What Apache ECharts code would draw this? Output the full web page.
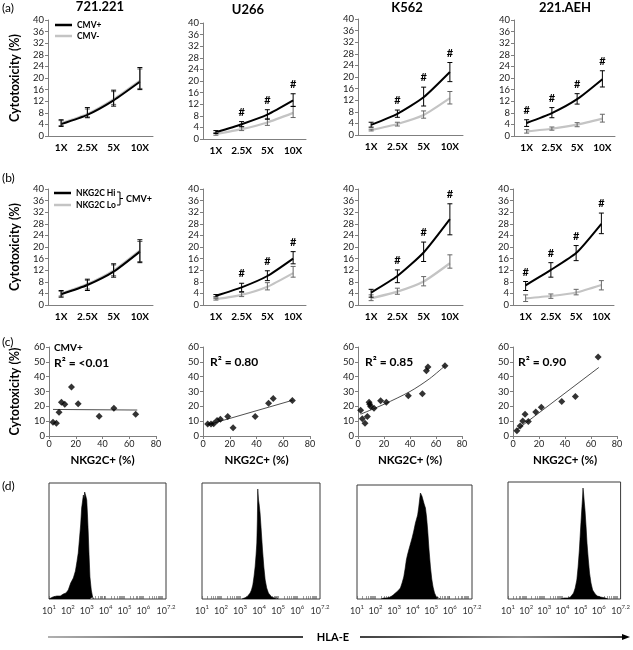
<!DOCTYPE html>
<html><head><meta charset="utf-8">
<script src="https://cdn.jsdelivr.net/npm/echarts@6/dist/echarts.min.js"></script>
<style>html,body{margin:0;padding:0;background:#fff}#c{width:633px;height:650px}</style>
</head><body><div id="c"></div>
<script>
// ---------- DATA ----------
const doses = ['1X','2.5X','5X','10X'];
const cellLines = ['721.221','U266','K562','221.AEH'];
const legendA = ['CMV+','CMV-'];
const legendB = ['NKG2C Hi','NKG2C Lo'];

// row (a): CMV+ (black) vs CMV- (grey)
const a1Pos=[4.1,7.3,12.3,18.7], a1PosLo=[3.3,6.3,10.3,16.0], a1PosHi=[5.6,9.8,15.8,23.6];
const a1Neg=[4.4,7.6,12.7,19.1], a1NegLo=[3.6,6.6,10.9,16.4], a1NegHi=[5.3,9.3,15.3,23.1];
const a1Sig=[0,0,0,0];
const a2Pos=[2.3,5.1,8.4,13.3], a2PosLo=[1.9,4.2,6.8,11.2], a2PosHi=[2.9,6.0,10.1,15.6];
const a2Neg=[1.7,3.4,5.7,9.0], a2NegLo=[1.3,2.9,4.7,7.4], a2NegHi=[2.2,4.3,7.1,11.3];
const a2Sig=[0,1,1,1];
const a3Pos=[3.5,7.3,13.0,21.7], a3PosLo=[2.7,6.1,10.0,18.4], a3PosHi=[4.4,8.6,16.5,25.0];
const a3Neg=[1.7,3.8,6.9,12.7], a3NegLo=[1.4,3.1,5.8,10.7], a3NegHi=[2.0,4.4,8.3,15.0];
const a3Sig=[0,1,1,1];
const a4Pos=[4.5,7.9,12.7,19.6], a4PosLo=[3.3,6.3,11.0,16.9], a4PosHi=[5.6,9.8,14.6,22.5];
const a4Neg=[1.6,2.5,3.9,6.0], a4NegLo=[1.0,2.0,3.2,4.8], a4NegHi=[2.2,3.1,4.6,7.5];
const a4Sig=[1,1,1,1];

// row (b): NKG2C Hi (black) vs NKG2C Lo (grey)
const b1Hi=[3.7,6.9,11.5,18.4], b1HiLo=[2.7,5.0,9.6,14.6], b1HiHi=[5.0,8.9,14.2,22.5];
const b1Lo=[3.9,7.2,11.9,18.8], b1LoLo=[3.1,5.5,10.1,15.0], b1LoHi=[4.7,8.5,13.8,21.9];
const b1Sig=[0,0,0,0];
const b2Hi=[3.2,6.1,10.0,16.0], b2HiLo=[2.8,4.6,8.4,14.2], b2HiHi=[3.6,7.5,11.8,18.4];
const b2Lo=[2.0,3.5,6.3,11.0], b2LoLo=[1.7,2.9,5.2,9.6], b2LoHi=[2.3,4.3,7.7,13.3];
const b2Sig=[0,1,1,1];
const b3Hi=[4.3,10.0,18.1,29.6], b3HiLo=[2.7,7.7,15.0,24.2], b3HiHi=[5.4,12.1,21.7,34.9];
const b3Lo=[2.3,4.6,8.1,14.4], b3LoLo=[1.5,3.7,6.6,12.7], b3LoHi=[3.5,5.8,9.8,17.3];
const b3Sig=[0,1,1,1];
const b4Hi=[6.8,12.1,17.9,28.0], b4HiLo=[5.0,9.6,15.3,24.6], b4HiHi=[8.1,14.6,20.5,31.7];
const b4Lo=[2.3,3.1,4.3,6.9], b4LoLo=[1.2,2.3,3.5,5.2], b4LoHi=[3.5,3.8,5.4,8.4];
const b4Sig=[1,1,1,1];

// row (c): NKG2C+ (%) vs cytotoxicity (%)
const c1Pts=[[3,9.2],[5.5,8.6],[7.5,16.0],[9.3,22.8],[11.8,21.4],[16.8,33.0],[21.8,21.7],[37.5,13.3],[48.5,18.7],[64.8,14.7]];
const c1Fit=[[3,17.9],[66,17.5]];
const c2Pts=[[3.5,8.1],[6,8.1],[8,8.3],[10.5,10.4],[13,11.3],[18.5,13.1],[22.5,5.6],[39,13.1],[49,22.1],[52.5,25.3],[66.8,23.9]];
const c2Fit=[[3,7.4],[67,24.1]];
const c3Pts=[[2,17.4],[3.3,11.7],[5.4,8.6],[7.2,13.1],[8.5,22.8],[9,21.4],[9.7,19.9],[12.3,18.7],[17.4,23.7],[21.8,22.8],[38.7,27.1],[49.5,28.4],[52.6,44.0],[53.8,46.5],[66.9,47.4]];
const c3Fit=[[2,14.7],[20,21.4],[40,30.0],[55,38.6],[67,47.4]];
const c4Pts=[[3,3.6],[5.5,6.8],[7.5,10.1],[9.3,14.7],[11.8,9.7],[17.5,16.2],[21.8,19.4],[37.5,23.2],[48,26.7],[65.5,53.3]];
const c4Fit=[[3,4.3],[66,46.2]];
const r2Texts=['R\u00b2 = <0.01','R\u00b2 = 0.80','R\u00b2 = 0.85','R\u00b2 = 0.90'];

// row (d): HLA-E histograms [log10 intensity, count]
const d1Hist=[[1.0,0],[1.0,1],[1.2,2],[1.41,3],[1.6,3],[1.76,5],[1.9,6],[2.02,9],[2.15,16],[2.29,21],[2.4,28],[2.47,36],[2.55,46],[2.61,59],[2.68,75],[2.73,91],[2.78,98],[2.82,104],[2.86,100],[2.89,107],[2.91,106],[2.95,103],[3.0,99],[3.04,84],[3.08,66],[3.12,45],[3.17,22],[3.24,9],[3.31,2],[3.38,0]];
const d2Hist=[[3.1,0],[3.18,1],[3.36,2],[3.53,6],[3.6,9],[3.67,14],[3.73,22],[3.79,32],[3.84,44],[3.88,56],[3.91,80],[3.93,110],[3.95,104],[3.97,99],[4.0,95],[4.05,86],[4.1,72],[4.18,49],[4.25,32],[4.32,19],[4.4,11],[4.49,6],[4.58,4],[4.66,2],[4.8,1],[4.93,1],[5.0,0]];
const d3Hist=[[2.3,0],[2.44,1],[2.6,1],[2.8,2],[2.95,4],[3.07,6],[3.2,8],[3.34,11],[3.43,16],[3.52,22],[3.6,31],[3.66,39],[3.72,44],[3.79,49],[3.88,55],[3.97,61],[4.06,68],[4.15,76],[4.2,78],[4.27,84],[4.33,92],[4.38,100],[4.42,106],[4.45,108],[4.5,103],[4.56,99],[4.62,95],[4.69,91],[4.75,82],[4.81,69],[4.88,50],[4.96,32],[5.03,20],[5.1,12],[5.18,6],[5.28,2],[5.4,1],[5.5,0]];
const d4Hist=[[3.9,0],[4.09,1],[4.3,1],[4.44,2],[4.61,6],[4.7,11],[4.79,19],[4.86,32],[4.93,49],[4.99,68],[5.05,86],[5.1,100],[5.13,111],[5.16,106],[5.2,97],[5.24,89],[5.3,72],[5.35,56],[5.42,40],[5.49,26],[5.57,16],[5.66,9],[5.8,5],[5.92,3],[6.1,2],[6.36,1],[6.5,0]];
const histLabelVals=[1,2,3,4,5,6,7.2];

// ---------- LAYOUT ----------
const FONT='Lato';
const layA=[[48,20,105],[203,23,103],[358,19,105],[514,20,101]];
const layB=[[48,189,105],[203,189,103],[358,189,105],[513,189,101]];
const layC=[[49,347,107],[203,347,107],[358,347,104],[513,347,104]];
const layD=[[49,483,117,116],[202,483,118,116],[357,485,115,114],[508,482,118,117]];

const grids=[],xAxes=[],yAxes=[],series=[];
const AX='#7f7f7f';

function errSeries(gi,lo,hi,sig,color){
  return {type:'custom',xAxisIndex:gi,yAxisIndex:gi,z:5,silent:true,
    data:lo.map((v,i)=>[i,v,hi[i],sig?sig[i]:0]),
    encode:{x:0,y:[1,2]},
    renderItem:function(params,api){
      const i=api.value(0),l=api.value(1),h=api.value(2),s=api.value(3);
      const p1=api.coord([i,l]),p2=api.coord([i,h]);
      const w=2.5;
      const ch=[
        {type:'line',shape:{x1:p1[0],y1:p1[1],x2:p2[0],y2:p2[1]},style:{stroke:color,lineWidth:1}},
        {type:'line',shape:{x1:p1[0]-w,y1:p1[1],x2:p1[0]+w,y2:p1[1]},style:{stroke:color,lineWidth:1}},
        {type:'line',shape:{x1:p2[0]-w,y1:p2[1],x2:p2[0]+w,y2:p2[1]},style:{stroke:color,lineWidth:1}}
      ];
      if(s){ch.push({type:'text',x:p2[0],y:p2[1]-4,style:{text:'#',font:'bold 11px '+FONT,fill:'#000',align:'center',verticalAlign:'bottom',textAlign:'center',textVerticalAlign:'bottom'}});}
      return {type:'group',children:ch};
    }};
}

function addLinePanel(pos,blk,blkLo,blkHi,gry,gryLo,gryHi,sig,names,yName){
  const gi=grids.length;
  grids.push({left:pos[0],top:pos[1],width:pos[2],height:116});
  xAxes.push({type:'category',gridIndex:gi,data:doses,boundaryGap:true,
    axisLine:{lineStyle:{color:AX}},axisTick:{length:3,lineStyle:{color:AX}},
    axisLabel:{interval:0,fontFamily:FONT,fontWeight:'bold',fontSize:10,color:'#000',margin:7}});
  yAxes.push({type:'value',gridIndex:gi,min:0,max:40,interval:4,splitLine:{show:false},
    axisLine:{show:true,lineStyle:{color:AX}},axisTick:{show:true,length:3,lineStyle:{color:AX}},
    axisLabel:{fontFamily:FONT,fontSize:9.5,color:'#222',margin:4},
    name:yName?'Cytotoxicity (%)':'',nameLocation:'middle',nameGap:27,
    nameTextStyle:{fontFamily:FONT,fontWeight:'bold',fontSize:12.5,color:'#000'}});
  series.push({type:'line',name:names[1],xAxisIndex:gi,yAxisIndex:gi,data:gry,symbol:'none',smooth:0.2,
    lineStyle:{color:'#c4c4c4',width:2.2},itemStyle:{color:'#c4c4c4'},z:2});
  series.push(errSeries(gi,gryLo,gryHi,null,'#666'));
  series.push({type:'line',name:names[0],xAxisIndex:gi,yAxisIndex:gi,data:blk,symbol:'none',smooth:0.2,
    lineStyle:{color:'#000',width:2},itemStyle:{color:'#000'},z:3});
  series.push(errSeries(gi,blkLo,blkHi,sig,'#000'));
}

function addScatterPanel(pos,pts,fit,smooth,yName){
  const gi=grids.length;
  grids.push({left:pos[0],top:pos[1],width:pos[2],height:89});
  xAxes.push({type:'value',gridIndex:gi,min:0,max:80,interval:20,splitLine:{show:false},
    axisLine:{lineStyle:{color:AX}},axisTick:{show:true,length:3,lineStyle:{color:AX}},
    axisLabel:{fontFamily:FONT,fontSize:9,color:'#222',margin:4},
    name:'NKG2C+ (%)',nameLocation:'middle',nameGap:18,
    nameTextStyle:{fontFamily:FONT,fontWeight:'bold',fontSize:11.5,color:'#000'}});
  yAxes.push({type:'value',gridIndex:gi,min:0,max:60,interval:10,splitLine:{show:false},
    axisLine:{show:true,lineStyle:{color:AX}},axisTick:{show:true,length:3,lineStyle:{color:AX}},
    axisLabel:{fontFamily:FONT,fontSize:9.5,color:'#222',margin:4},
    name:yName?'Cytotoxicity (%)':'',nameLocation:'middle',nameGap:28,
    nameTextStyle:{fontFamily:FONT,fontWeight:'bold',fontSize:12.5,color:'#000'}});
  series.push({type:'line',xAxisIndex:gi,yAxisIndex:gi,data:fit,symbol:'none',smooth:smooth,
    lineStyle:{color:'#222',width:0.8},z:2});
  series.push({type:'scatter',xAxisIndex:gi,yAxisIndex:gi,data:pts,symbol:'diamond',symbolSize:7,
    itemStyle:{color:'#000'},z:3});
}

const histTicks=[];
for(let d=1;d<=7;d++){for(let k=1;k<=9;k++){const v=d+Math.log10(k);if(v<=7.2)histTicks.push(+v.toFixed(3));}}

function addHist(pos,hist){
  const gi=grids.length;
  grids.push({left:pos[0],top:pos[1],width:pos[2],height:pos[3],show:true,borderColor:'#3a3a3a',borderWidth:1,backgroundColor:'rgba(0,0,0,0)'});
  xAxes.push({type:'value',gridIndex:gi,min:1,max:7.2,splitLine:{show:false},axisLine:{show:false},
    axisTick:{show:true,inside:true,length:3,customValues:histTicks,lineStyle:{color:'#555',width:0.6}},
    axisLabel:{customValues:histLabelVals,margin:5,
      formatter:v=>'{b|10}{s|'+(Math.abs(v-7.2)<1e-6?'7.2':String(Math.round(v)))+'}',
      rich:{b:{fontFamily:FONT,fontSize:9,color:'#333',lineHeight:12,verticalAlign:'bottom'},
            s:{fontFamily:FONT,fontSize:6,color:'#333',lineHeight:12,verticalAlign:'top',padding:[0,0,5,0]}}}});
  yAxes.push({type:'value',gridIndex:gi,min:0,max:pos[3],show:false,splitLine:{show:false}});
  series.push({type:'line',xAxisIndex:gi,yAxisIndex:gi,data:hist,symbol:'none',
    lineStyle:{color:'#000',width:0.6},areaStyle:{color:'#000',opacity:1},z:2});
}

addLinePanel(layA[0],a1Pos,a1PosLo,a1PosHi,a1Neg,a1NegLo,a1NegHi,a1Sig,legendA,true);
addLinePanel(layA[1],a2Pos,a2PosLo,a2PosHi,a2Neg,a2NegLo,a2NegHi,a2Sig,legendA,false);
addLinePanel(layA[2],a3Pos,a3PosLo,a3PosHi,a3Neg,a3NegLo,a3NegHi,a3Sig,legendA,false);
addLinePanel(layA[3],a4Pos,a4PosLo,a4PosHi,a4Neg,a4NegLo,a4NegHi,a4Sig,legendA,false);
addLinePanel(layB[0],b1Hi,b1HiLo,b1HiHi,b1Lo,b1LoLo,b1LoHi,b1Sig,legendB,true);
addLinePanel(layB[1],b2Hi,b2HiLo,b2HiHi,b2Lo,b2LoLo,b2LoHi,b2Sig,legendB,false);
addLinePanel(layB[2],b3Hi,b3HiLo,b3HiHi,b3Lo,b3LoLo,b3LoHi,b3Sig,legendB,false);
addLinePanel(layB[3],b4Hi,b4HiLo,b4HiHi,b4Lo,b4LoLo,b4LoHi,b4Sig,legendB,false);
addScatterPanel(layC[0],c1Pts,c1Fit,false,true);
addScatterPanel(layC[1],c2Pts,c2Fit,false,false);
addScatterPanel(layC[2],c3Pts,c3Fit,0.3,false);
addScatterPanel(layC[3],c4Pts,c4Fit,false,false);
addHist(layD[0],d1Hist);
addHist(layD[1],d2Hist);
addHist(layD[2],d3Hist);
addHist(layD[3],d4Hist);

function txt(x,y,t,font,align){
  return {type:'text',x:x,y:y,silent:true,style:{text:t,font:font,fill:'#000',align:align||'left',verticalAlign:'middle',textAlign:align||'left',textVerticalAlign:'middle'}};
}
const titleX=[100,248,407,565], titleY=[7,10,8,8];
const graphics=[
  txt(2,8,'(a)','12px '+FONT),
  txt(2,178,'(b)','12px '+FONT),
  txt(2,342,'(c)','12px '+FONT),
  txt(2,486,'(d)','12px '+FONT),
  txt(54,348,'CMV+','bold 10px '+FONT),
  txt(54,363,r2Texts[0],'bold 12px '+FONT),
  txt(210,362,r2Texts[1],'bold 12px '+FONT),
  txt(365,362,r2Texts[2],'bold 12px '+FONT),
  txt(518,362,r2Texts[3],'bold 12px '+FONT),
  {type:'polyline',silent:true,shape:{points:[[117,192],[120,192],[120,205],[117,205]]},style:{stroke:'#000',lineWidth:1,fill:null}},
  {type:'line',silent:true,shape:{x1:120,y1:198.5,x2:123,y2:198.5},style:{stroke:'#000',lineWidth:1}},
  txt(126,199,'CMV+','bold 9px '+FONT),
  {type:'line',silent:true,shape:{x1:48,y1:637,x2:303,y2:637},style:{lineWidth:1.5,stroke:{type:'linear',x:0,y:0,x2:1,y2:0,colorStops:[{offset:0,color:'#999'},{offset:0.5,color:'#333'},{offset:1,color:'#000'}]}}},
  txt(333,637,'HLA-E','bold 11px '+FONT,'center'),
  {type:'line',silent:true,shape:{x1:360,y1:637,x2:624,y2:637},style:{lineWidth:1.5,stroke:{type:'linear',x:0,y:0,x2:1,y2:0,colorStops:[{offset:0,color:'#000'},{offset:0.6,color:'#666'},{offset:1,color:'#000'}]}}},
  {type:'polygon',silent:true,shape:{points:[[622,634],[630,637],[622,640]]},style:{fill:'#000'}}
];
cellLines.forEach((t,i)=>graphics.push(txt(titleX[i],titleY[i],t,'bold 13px '+FONT,'center')));

const legText={fontFamily:FONT,fontWeight:'bold',fontSize:8.5,color:'#000'};
const chart=echarts.init(document.getElementById('c'),null,{renderer:'canvas'});
chart.setOption({
  animation:false,
  backgroundColor:'#fff',
  grid:grids,xAxis:xAxes,yAxis:yAxes,series:series,
  legend:[
    {data:legendA.map((n,i)=>({name:n,icon:'rect',itemStyle:{color:i?'#c4c4c4':'#000'}})),left:55,top:20,orient:'vertical',itemWidth:17,itemHeight:2.5,itemGap:1,selectedMode:false,padding:0,textStyle:Object.assign({lineHeight:10},legText)},
    {data:legendB.map((n,i)=>({name:n,icon:'rect',itemStyle:{color:i?'#c4c4c4':'#000'}})),left:54,top:188,orient:'vertical',itemWidth:17,itemHeight:2.5,itemGap:2,selectedMode:false,padding:0,textStyle:Object.assign({lineHeight:10},legText)}
  ],
  graphic:graphics
});
</script></body></html>
